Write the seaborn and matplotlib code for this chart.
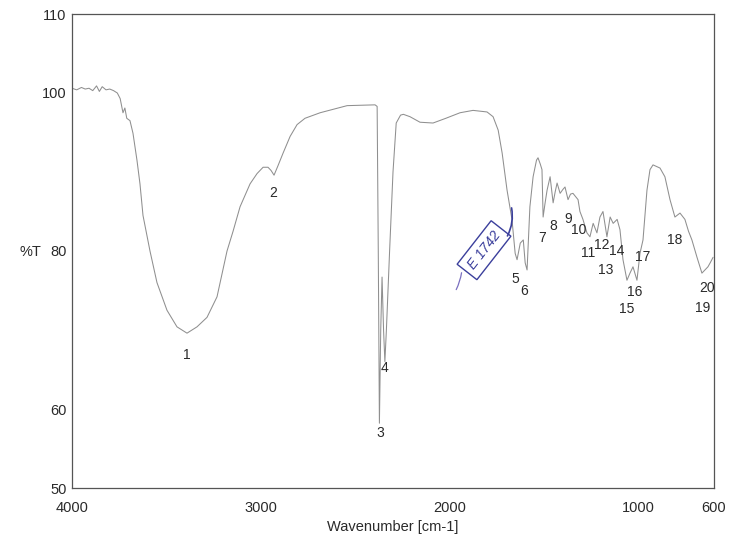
import matplotlib
matplotlib.use("Agg")
import matplotlib.pyplot as plt
from matplotlib.ticker import FixedLocator
import seaborn as sns
import pandas as pd

# ---- spectrum data ----
wavenumber = [4000, 3975, 3950, 3930, 3910, 3890, 3870, 3855, 3840, 3820, 3800, 3780, 3760,
              3745, 3730, 3720, 3710, 3693, 3677, 3656, 3640, 3624, 3587, 3550, 3497, 3444,
              3391, 3338, 3285, 3232, 3179, 3147, 3110, 3057, 3020, 2988, 2962, 2946, 2930,
              2909, 2882, 2845, 2808, 2766, 2686, 2543, 2395, 2384, 2378, 2372, 2365, 2358,
              2350, 2343, 2335, 2318, 2300, 2283, 2260, 2245, 2210, 2157, 2088, 2020, 1945,
              1876, 1802, 1770, 1743, 1722, 1696, 1670, 1653, 1643, 1626, 1610, 1600, 1590,
              1575, 1558, 1540, 1532, 1520, 1511, 1505, 1495, 1484, 1468, 1452, 1441, 1431,
              1415, 1400, 1389, 1373, 1360, 1347, 1320, 1310, 1294, 1273, 1257, 1240, 1220,
              1204, 1188, 1175, 1167, 1150, 1134, 1113, 1098, 1082, 1061, 1045, 1029, 1008,
              992, 976, 955, 939, 923, 905, 886, 860, 833, 807, 780, 754, 735, 717, 690, 664,
              648, 632, 618, 605]
transmittance = [100.6, 100.4, 100.7, 100.5, 100.6, 100.3, 100.9, 100.2, 100.8, 100.4, 100.5, 100.3, 100.0,
                 99.3, 97.5, 98.1, 96.8, 96.5, 94.9, 91.5, 88.5, 84.5, 80.0, 76.0, 72.5, 70.4,
                 69.6, 70.4, 71.6, 74.2, 80.0, 82.5, 85.6, 88.5, 89.8, 90.6, 90.6, 90.2, 89.6,
                 90.8, 92.4, 94.5, 96.0, 96.8, 97.5, 98.4, 98.5, 98.3, 80.0, 58.2, 70.0, 76.7,
                 70.0, 66.0, 70.0, 80.0, 90.0, 96.2, 97.2, 97.3, 97.0, 96.3, 96.2, 96.8, 97.5,
                 97.8, 97.6, 97.0, 95.3, 92.4, 87.7, 84.0, 79.7, 78.9, 81.0, 81.4, 78.5, 77.6,
                 85.6, 89.4, 91.5, 91.8, 91.0, 90.3, 84.3, 86.0, 87.7, 89.4, 86.1, 87.5, 88.6,
                 87.3, 87.8, 88.1, 86.5, 87.2, 87.3, 86.5, 85.0, 84.0, 82.3, 81.8, 83.5, 82.3,
                 84.3, 85.0, 83.0, 81.8, 84.3, 83.5, 84.0, 82.7, 78.9, 76.3, 77.2, 78.0, 76.3,
                 79.7, 81.4, 87.7, 90.3, 90.9, 90.7, 90.5, 89.4, 86.5, 84.3, 84.8, 84.0, 82.5, 81.4, 79.2, 77.2,
                 77.6, 78.0, 78.6, 79.2]

# ---- peak labels ----
peak_numbers = [str(i) for i in range(1, 21)]
peak_wn = [3391, 2935, 2368, 2347, 1654, 1606, 1511, 1452, 1372, 1318,
           1267, 1193, 1172, 1114, 1061, 1018, 976, 807, 658, 637]
peak_t = [66.8, 87.4, 57.0, 65.2, 76.5, 74.9, 81.6, 83.2, 84.0, 82.7,
          79.7, 80.8, 77.6, 80.0, 72.7, 74.8, 79.2, 81.4, 72.8, 75.3]

# ---- axis ticks ----
x_major = [4000, 3000, 2000, 1000, 600]
x_minor = [3500, 2500, 1500]
y_major = [50, 60, 80, 100, 110]
y_minor = [70, 90]

df = pd.DataFrame({"wavenumber": wavenumber, "T": transmittance})

sns.set_style("white")
plt.rcParams["font.family"] = ["Liberation Sans", "DejaVu Sans"]

fig = plt.figure(figsize=(7.29, 5.42), dpi=100)
ax = fig.add_axes([72 / 729, 1 - 488 / 542, (714 - 72) / 729, (488 - 14) / 542])

sns.lineplot(data=df, x="wavenumber", y="T", ax=ax, color="#8f8f8f", linewidth=0.75,
             estimator=None, sort=True)

ax.set_xlim(4000, 600)
ax.set_ylim(50, 110)

ax.xaxis.set_major_locator(FixedLocator(x_major))
ax.xaxis.set_minor_locator(FixedLocator(x_minor))
ax.yaxis.set_major_locator(FixedLocator(y_major))
ax.yaxis.set_minor_locator(FixedLocator(y_minor))
ax.set_xticklabels([str(v) for v in x_major])
ax.set_yticklabels([str(v) for v in y_major])
ax.tick_params(which="both", direction="in", length=6, width=0.8, color="#555555",
               labelsize=10.5, labelcolor="#2a2a2a", pad=4)
ax.tick_params(axis="x", which="both", pad=9)
for s in ax.spines.values():
    s.set_color("#555555")
    s.set_linewidth(0.9)

ax.set_xlabel("Wavenumber [cm-1]", fontsize=10.5, color="#2a2a2a", labelpad=4)
ax.set_ylabel("")
fig.text(30 / 729, 1 - 252 / 542, "%T", fontsize=10.5, color="#2a2a2a",
         ha="center", va="center")

for lab, xw, yt in zip(peak_numbers, peak_wn, peak_t):
    ax.text(xw, yt, lab, fontsize=10, color="#2a2a2a", ha="center", va="center")

# handwritten note
ink = "#3b3f9c"
ax.text(1818, 80.1, "E 1742", fontsize=10, color=ink, rotation=52,
        ha="center", va="center", style="italic",
        bbox=dict(boxstyle="square,pad=0.4", fc="none", ec=ink, lw=1.0))
ax.annotate("", xy=(1675, 85.8), xytext=(1701, 81.6),
            arrowprops=dict(arrowstyle="-", color=ink, lw=1.2,
                            connectionstyle="arc3,rad=0.2"))
ax.annotate("", xy=(1972, 74.8), xytext=(1935, 77.6),
            arrowprops=dict(arrowstyle="-", color="#7a6fc0", lw=0.9,
                            connectionstyle="arc3,rad=-0.1"))

fig.savefig("out.png", dpi=100)
